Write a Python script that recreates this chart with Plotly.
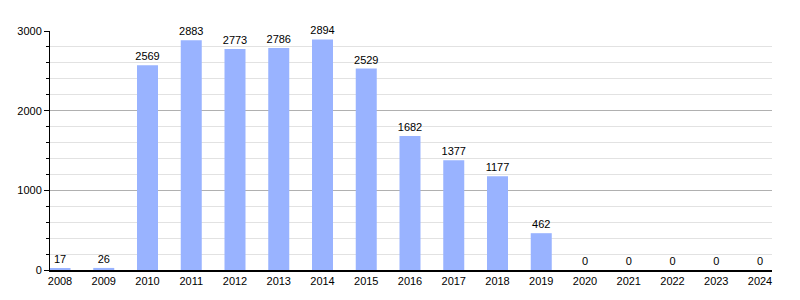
import plotly.graph_objects as go

years = [2008, 2009, 2010, 2011, 2012, 2013, 2014, 2015, 2016, 2017, 2018, 2019, 2020, 2021, 2022, 2023, 2024]
values = [17, 26, 2569, 2883, 2773, 2786, 2894, 2529, 1682, 1377, 1177, 462, 0, 0, 0, 0, 0]
y_ticks = [0, 1000, 2000, 3000]

fig = go.Figure()
fig.add_trace(go.Bar(
    x=years, y=values, width=0.48,
    marker=dict(color="#99b3ff", line=dict(width=0)),
    text=[str(v) for v in values], textposition="outside",
    textfont=dict(family="Liberation Sans, Arial, sans-serif", size=11, color="#000"),
    cliponaxis=False,
))
fig.update_layout(
    width=800, height=300,
    margin=dict(l=50, r=28, t=31, b=30),
    plot_bgcolor="white", paper_bgcolor="white",
    showlegend=False,
    font=dict(family="Liberation Sans, Arial, sans-serif", size=11, color="#000"),
    uniformtext=dict(minsize=11, mode="show"),
)
fig.update_xaxes(
    range=[2008 - 10/43.75, 2024 + 12/43.75],
    tickmode="array", tickvals=years, ticktext=[str(y) for y in years],
    showgrid=False, showline=True, linecolor="#000", linewidth=1.5,
    ticks="", ticklen=0, zeroline=False,
)
fig.update_yaxes(
    range=[0, 3000],
    tickmode="array", tickvals=y_ticks,
    showgrid=True, gridcolor="#b0b0b0", gridwidth=1,
    showline=True, linecolor="#000", linewidth=1,
    ticks="outside", ticklen=5, tickcolor="#000",
    minor=dict(dtick=200, showgrid=True, gridcolor="#e2e2e2", ticks="outside", ticklen=3, tickcolor="#000"),
    zeroline=False,
)
fig.write_html("out.html")
